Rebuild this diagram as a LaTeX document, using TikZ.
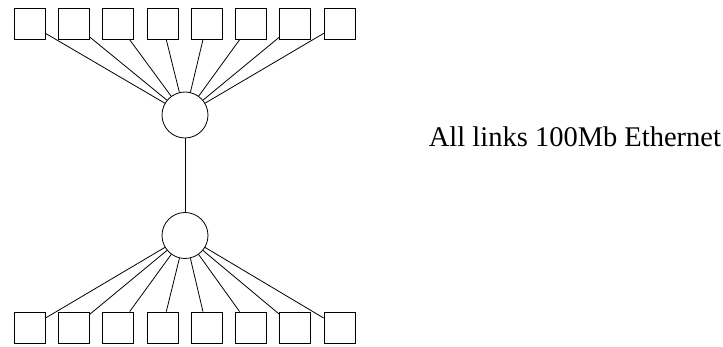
\documentclass[tikz,border=0pt]{standalone}
\usepackage{fontspec}
\setmainfont{Liberation Serif}
\begin{document}
\begin{tikzpicture}[x=1pt, y=-1pt, line width=.8pt,
  host/.style={draw, minimum size=31pt, inner sep=0pt},
  hub/.style={draw, circle, minimum size=46pt, inner sep=0pt}]
\useasboundingbox (0,0) rectangle (723,347);
\node[hub] (h1) at (185,115) {};
\node[hub] (h2) at (185,235.5) {};
\draw (h1)--(h2);
\foreach \i in {0,...,7}{
  \node[host] (t\i) at (29.5+44.3*\i,24) {};
  \node[host] (b\i) at (29.5+44.3*\i,327.5) {};
  \draw (t\i)--(h1);
  \draw (b\i)--(h2);
}
\node[anchor=base west, inner sep=0pt, font=\fontsize{28.5}{34}\selectfont] (note) at (428.5,147) {All links 100Mb Ethernet};
\end{tikzpicture}
\end{document}
